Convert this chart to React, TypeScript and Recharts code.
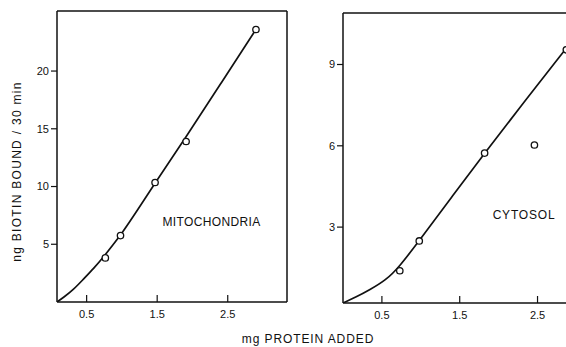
import React from 'react';
import { ComposedChart, Line, Scatter, XAxis, YAxis, ReferenceLine } from 'recharts';

// Mitochondria panel
const mitoPoints = [
  { x: 0.765, y: 3.82 },
  { x: 0.98, y: 5.75 },
  { x: 1.47, y: 10.35 },
  { x: 1.91, y: 13.9 },
  { x: 2.9, y: 23.6 },
];
const mitoCurve = [
  { x: 0.08, y: 0 },
  { x: 0.17, y: 0.38 },
  { x: 0.31, y: 1.05 },
  { x: 0.45, y: 1.95 },
  { x: 0.6, y: 2.9 },
  { x: 0.74, y: 3.9 },
  { x: 0.88, y: 5.0 },
  { x: 1.0, y: 5.95 },
  { x: 1.21, y: 7.85 },
  { x: 1.47, y: 10.3 },
  { x: 1.91, y: 14.3 },
  { x: 2.4, y: 18.9 },
  { x: 2.9, y: 23.6 },
];
// Cytosol panel
const cytoPoints = [
  { x: 0.73, y: 1.39 },
  { x: 0.98, y: 2.49 },
  { x: 1.82, y: 5.73 },
  { x: 2.46, y: 6.03 },
  { x: 2.87, y: 9.54 },
];
const cytoCurve = [
  { x: 0, y: 0.2 },
  { x: 0.17, y: 0.42 },
  { x: 0.34, y: 0.68 },
  { x: 0.55, y: 1.04 },
  { x: 0.72, y: 1.52 },
  { x: 0.98, y: 2.5 },
  { x: 1.4, y: 4.12 },
  { x: 1.82, y: 5.73 },
  { x: 2.35, y: 7.7 },
  { x: 2.87, y: 9.6 },
];
const xTicks = [0.5, 1.5, 2.5];
const mitoYTicks = [5, 10, 15, 20];
const cytoYTicks = [3, 6, 9];

const FONT = '"Liberation Sans", Arial, sans-serif';
const INK = '#111';

const Circle = (props: any) => {
  const { cx, cy } = props;
  return <circle cx={cx} cy={cy} r={3.2} fill="#fff" stroke={INK} strokeWidth={1.3} />;
};

const tickStyle = { fill: INK, fontSize: 11, fontFamily: FONT };

function Panel(props: {
  points: { x: number; y: number }[];
  curve: { x: number; y: number }[];
  xDomain: [number, number];
  yDomain: [number, number];
  yTicks: number[];
  width: number;
  margin: { top: number; right: number; bottom: number; left: number };
}) {
  const { points, curve, xDomain, yDomain, yTicks, width, margin } = props;
  return (
    <ComposedChart width={width} height={347} margin={margin}>
      <XAxis
        xAxisId="b"
        type="number"
        dataKey="x"
        domain={xDomain}
        ticks={xTicks}
        allowDataOverflow
        height={30}
        tickSize={-7}
        tickMargin={15}
        tickFormatter={(v: number) => v.toFixed(1)}
        tick={tickStyle}
        axisLine={{ stroke: INK, strokeWidth: 1.5 }}
        tickLine={{ stroke: INK, strokeWidth: 1.2 }}
      />
      <YAxis
        yAxisId="l"
        type="number"
        dataKey="y"
        domain={yDomain}
        ticks={yTicks}
        allowDataOverflow
        width={57}
        tickSize={6}
        tickMargin={2}
        tick={tickStyle}
        axisLine={{ stroke: INK, strokeWidth: 1.5 }}
        tickLine={{ stroke: INK, strokeWidth: 1.2 }}
      />
      <ReferenceLine xAxisId="b" yAxisId="l" y={yDomain[1]} stroke={INK} strokeWidth={1.5} ifOverflow="visible" />
      <ReferenceLine xAxisId="b" yAxisId="l" x={xDomain[1]} stroke={INK} strokeWidth={1.5} ifOverflow="visible" />
      <Line
        xAxisId="b"
        yAxisId="l"
        data={curve}
        dataKey="y"
        type="basis"
        stroke={INK}
        strokeWidth={1.7}
        dot={false}
        activeDot={false}
        isAnimationActive={false}
      />
      <Scatter
        xAxisId="b"
        yAxisId="l"
        data={points}
        dataKey="y"
        shape={<Circle />}
        isAnimationActive={false}
      />
    </ComposedChart>
  );
}

export default function App() {
  return (
    <div
      style={{
        position: 'absolute',
        left: 0,
        top: 0,
        width: 566,
        height: 347,
        overflow: 'hidden',
        background: '#fff',
        fontFamily: FONT,
      }}
    >
      <div style={{ position: 'absolute', left: 0, top: 0 }}>
        <Panel
          points={mitoPoints}
          curve={mitoCurve}
          xDomain={[0.08, 3.34]}
          yDomain={[0, 25.2]}
          yTicks={mitoYTicks}
          width={300}
          margin={{ top: 11, right: 13, bottom: 15, left: 0 }}
        />
      </div>
      <div style={{ position: 'absolute', left: 286, top: 0 }}>
        <Panel
          points={cytoPoints}
          curve={cytoCurve}
          xDomain={[0, 3.2]}
          yDomain={[0.2, 10.9]}
          yTicks={cytoYTicks}
          width={306}
          margin={{ top: 13, right: 0, bottom: 14, left: 0 }}
        />
      </div>
      <svg
        width={566}
        height={347}
        style={{ position: 'absolute', left: 0, top: 0, pointerEvents: 'none' }}
      >
        <text
          x={20.5}
          y={171.5}
          transform="rotate(-90 20.5 171.5)"
          textAnchor="middle"
          fontSize={12}
          letterSpacing={1.3}
          fill={INK}
          fontFamily={FONT}
        >
          ng BIOTIN BOUND / 30 min
        </text>
        <text x={308} y={343} textAnchor="middle" fontSize={12} letterSpacing={0.9} fill={INK} fontFamily={FONT}>
          mg PROTEIN ADDED
        </text>
        <text x={211.5} y={225.5} textAnchor="middle" fontSize={12} letterSpacing={0.35} fill={INK} fontFamily={FONT}>
          MITOCHONDRIA
        </text>
        <text x={524} y={218.5} textAnchor="middle" fontSize={12} letterSpacing={0.8} fill={INK} fontFamily={FONT}>
          CYTOSOL
        </text>
      </svg>
    </div>
  );
}
